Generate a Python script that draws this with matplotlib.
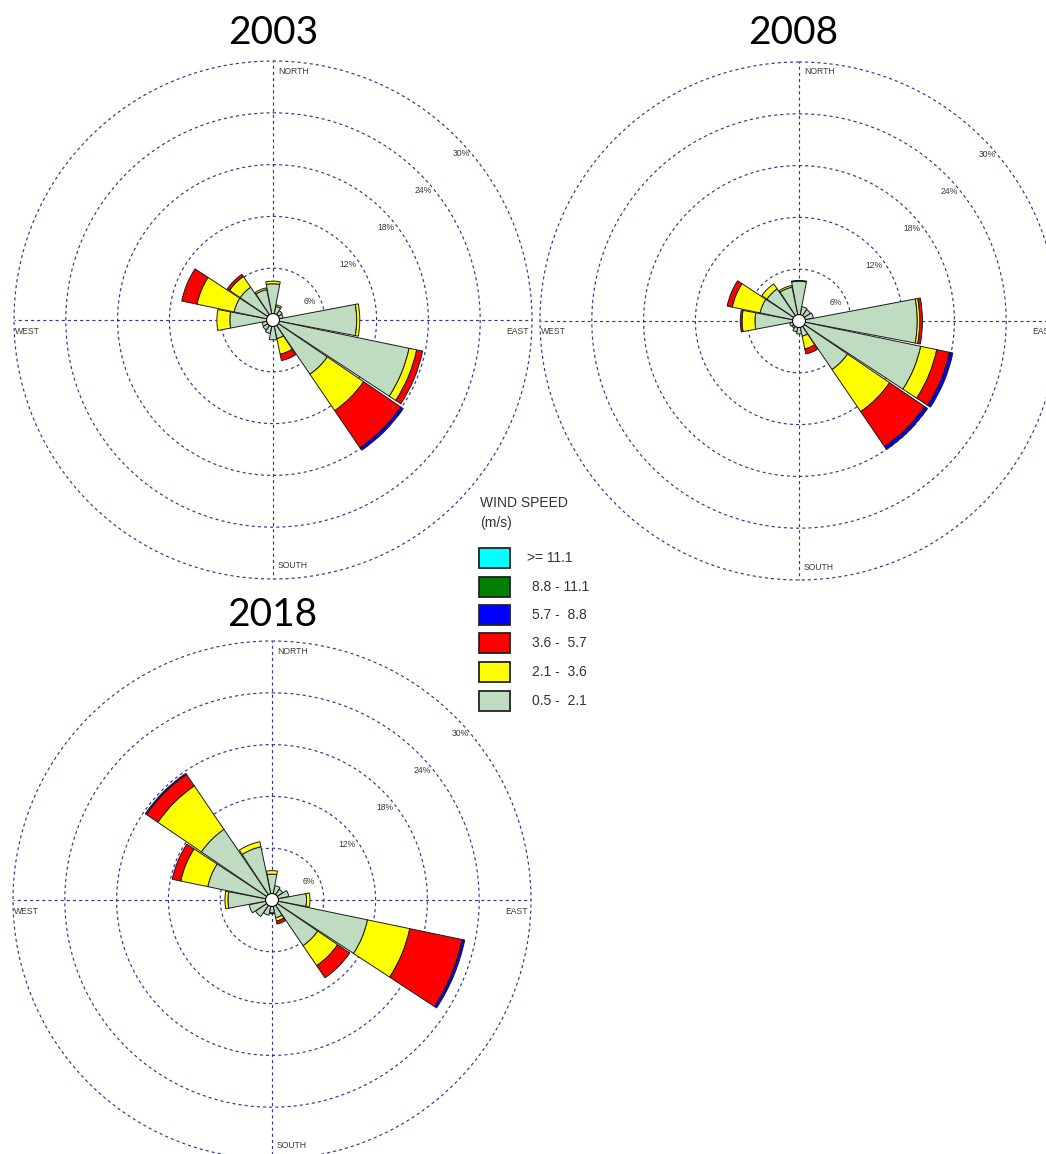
import numpy as np
import matplotlib
matplotlib.use('Agg')
import matplotlib.pyplot as plt
from matplotlib.patches import Rectangle, Circle

# ---------------- data ----------------
directions = ['N', 'NNE', 'NE', 'ENE', 'E', 'ESE', 'SE', 'SSE',
              'S', 'SSW', 'SW', 'WSW', 'W', 'WNW', 'NW', 'NNW']
speed_labels = ['>= 11.1', '8.8 - 11.1', '5.7 -  8.8', '3.6 -  5.7', '2.1 -  3.6', '0.5 -  2.1']
speed_colors = ['#00FFFF', '#008000', '#0000FF', '#FF0000', '#FFFF00', '#C0DCC0']
ring_values = [6, 12, 18, 24, 30]
ring_labels = ['6%', '12%', '18%', '24%', '30%']
years = ['2003', '2008', '2018']

# frequency (%) per direction, per wind-speed class
y2003_05_21 = [4.2, 1.6, 1.3, 1.2, 9.7, 16.1, 7.6, 2.2, 2.3, 1.6, 1.4, 1.3, 5.0, 4.6, 4.6, 3.6]
y2003_21_36 = [0.3, 0.2, 0.0, 0.0, 0.35, 0.9, 5.1, 1.85, 0.0, 0.0, 0.0, 0.0, 1.5, 4.4, 1.5, 0.2]
y2003_36_57 = [0.0, 0.0, 0.0, 0.0, 0.0, 0.7, 5.2, 0.75, 0.0, 0.0, 0.0, 0.0, 0.0, 1.8, 0.3, 0.0]
y2003_57_88 = [0.0, 0.0, 0.0, 0.0, 0.0, 0.0, 0.35, 0.0, 0.0, 0.0, 0.0, 0.0, 0.0, 0.0, 0.0, 0.0]

y2008_05_21 = [4.6, 1.7, 1.6, 1.7, 13.7, 14.4, 6.8, 1.8, 1.5, 1.3, 1.0, 1.1, 5.1, 4.6, 4.5, 4.0]
y2008_21_36 = [0.1, 0.0, 0.0, 0.0, 0.3, 1.9, 5.9, 1.5, 0.0, 0.0, 0.0, 0.0, 1.5, 3.3, 0.7, 0.2]
y2008_36_57 = [0.0, 0.0, 0.0, 0.0, 0.3, 1.5, 4.9, 0.6, 0.0, 0.0, 0.0, 0.0, 0.2, 0.6, 0.0, 0.0]
y2008_57_88 = [0.0, 0.0, 0.0, 0.0, 0.0, 0.4, 0.4, 0.0, 0.0, 0.0, 0.0, 0.0, 0.0, 0.0, 0.0, 0.0]

y2018_05_21 = [3.0, 1.7, 1.5, 2.0, 4.0, 11.3, 6.4, 2.1, 1.5, 1.8, 2.3, 2.7, 5.1, 7.6, 9.9, 6.3]
y2018_21_36 = [0.4, 0.0, 0.0, 0.0, 0.4, 5.0, 2.8, 0.4, 0.1, 0.0, 0.0, 0.0, 0.35, 3.2, 6.1, 0.6]
y2018_36_57 = [0.0, 0.0, 0.0, 0.0, 0.0, 6.2, 1.7, 0.35, 0.0, 0.0, 0.0, 0.0, 0.0, 1.0, 1.6, 0.0]
y2018_57_88 = [0.0, 0.0, 0.0, 0.0, 0.0, 0.3, 0.0, 0.0, 0.0, 0.0, 0.0, 0.0, 0.0, 0.0, 0.15, 0.0]

zeros16 = [0.0] * 16
year_classes = {
    '2003': [y2003_05_21, y2003_21_36, y2003_36_57, y2003_57_88, zeros16, zeros16],
    '2008': [y2008_05_21, y2008_21_36, y2008_36_57, y2008_57_88, zeros16, zeros16],
    '2018': [y2018_05_21, y2018_21_36, y2018_36_57, y2018_57_88, zeros16, zeros16],
}

# ---------------- layout ----------------
W, H = 1046, 1154
R = 259  # px radius of the 30% ring
fig = plt.figure(figsize=(W / 100, H / 100), dpi=100)
fig.patch.set_facecolor('white')

centers = {'2003': (273, 320), '2008': (799, 321), '2018': (272, 900)}
title_pos = {'2003': (273, 33), '2008': (793, 33), '2018': (272, 615)}

ring_color = '#34349a'
label_color = '#3a3a3a'
class_colors_inner_first = speed_colors[::-1]


def fx(px):
    return px / W


def fy(py):
    return 1 - py / H


def add_rose(year):
    cx, cy = centers[year]
    ax = fig.add_axes([(cx - R) / W, (H - cy - R) / H, 2 * R / W, 2 * R / H],
                      projection='polar')
    ax.set_theta_zero_location('N')
    ax.set_theta_direction(-1)
    ax.set_ylim(0, 30)
    ax.axis('off')

    # rings and cross-hair
    th = np.linspace(0, 2 * np.pi, 721)
    for v in ring_values:
        ax.plot(th, np.full_like(th, v), ls=(0, (2.6, 2.6)), color=ring_color,
                lw=0.85, zorder=1, clip_on=False)
    for t in [0, np.pi / 2, np.pi, 3 * np.pi / 2]:
        ax.plot([t, t], [0, 30], ls=(0, (2.6, 2.6)), color=ring_color,
                lw=0.85, zorder=1, clip_on=False)

    theta = np.deg2rad(np.arange(len(directions)) * 22.5)
    width = np.deg2rad(21.5)
    bottom = np.zeros(len(directions))
    for vals, col in zip(year_classes[year], class_colors_inner_first):
        vals = np.asarray(vals, dtype=float)
        m = vals > 0
        if m.any():
            ax.bar(theta[m], vals[m], width=width, bottom=bottom[m], color=col,
                   edgecolor='#1a1a1a', linewidth=0.7, zorder=3, align='center')
        bottom = bottom + vals

    ax.add_patch(Circle((0.5, 0.5), 0.75 / 30 * 0.5, transform=ax.transAxes,
                        facecolor='white', edgecolor='black', lw=0.8, zorder=6))

    s = 2 * R
    fs = 6.2
    ax.text(0.5 + 5 / s, 0.5 + 249 / s, 'NORTH', transform=ax.transAxes, ha='left',
            va='center', fontsize=fs, color=label_color, family='Liberation Sans')
    ax.text(0.5 + 5 / s, 0.5 - 246 / s, 'SOUTH', transform=ax.transAxes, ha='left',
            va='center', fontsize=fs, color=label_color, family='Liberation Sans')
    ax.text(0.5 - 258 / s, 0.5 - 11 / s, 'WEST', transform=ax.transAxes, ha='left',
            va='center', fontsize=fs, color=label_color, family='Liberation Sans')
    ax.text(0.5 + 256 / s, 0.5 - 11 / s, 'EAST', transform=ax.transAxes, ha='right',
            va='center', fontsize=fs, color=label_color, family='Liberation Sans')
    px_per = R / 30.0
    for v, lab in zip(ring_values, ring_labels):
        rp = v * px_per
        up = rp * 0.715 - 19
        dx = rp * 0.73 - 1
        ax.text(0.5 + dx / s, 0.5 + up / s, lab, transform=ax.transAxes, ha='center',
                va='center', fontsize=fs, color=label_color, family='Liberation Sans')

    tx, ty = title_pos[year]
    fig.text(fx(tx), fy(ty), year, ha='center', va='center', fontsize=28,
             family='Lato', color='black')


for yr in years:
    add_rose(yr)

# ---------------- legend ----------------
fig.text(fx(480), fy(503), 'WIND SPEED', ha='left', va='center', fontsize=10,
         family='Liberation Sans', color='#333333')
fig.text(fx(480), fy(523), '(m/s)', ha='left', va='center', fontsize=10,
         family='Liberation Sans', color='#333333')
box_y = [558, 587, 615, 643, 671.5, 701]
for i, (lab, col) in enumerate(zip(speed_labels, speed_colors)):
    yc = box_y[i]
    fig.patches.append(Rectangle((fx(479), fy(yc + 10)), 31 / W, 20 / H,
                                 transform=fig.transFigure, facecolor=col,
                                 edgecolor='#222222', lw=1.3, zorder=5))
    x_text = 527 if i == 0 else 532
    fig.text(fx(x_text), fy(yc), lab, ha='left', va='center', fontsize=10,
             family='Liberation Sans', color='#333333')

fig.savefig('out.png', dpi=100, facecolor='white')
